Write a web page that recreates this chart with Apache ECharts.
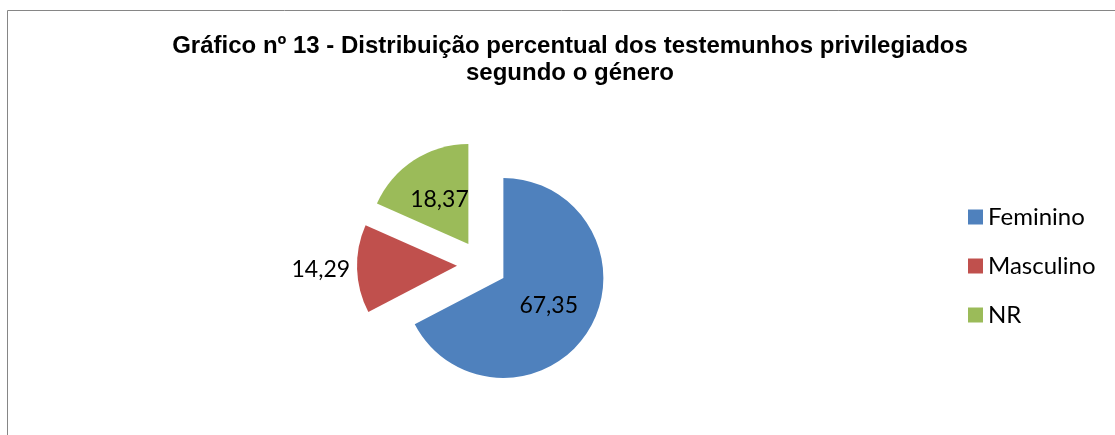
<!DOCTYPE html>
<html>
<head>
<meta charset="utf-8">
<script src="https://cdn.jsdelivr.net/npm/echarts@6/dist/echarts.min.js"></script>
<style>
  html, body { margin: 0; padding: 0; background: #fff; }
  #chart { width: 1115px; height: 435px; }
</style>
</head>
<body>
<div id="chart"></div>
<script>
// data
const categories = ['Feminino', 'Masculino', 'NR']
const values = [67.35, 14.29, 18.37]
const colors = ['#4F81BD', '#C0504D', '#9BBB59']

const fmt = v => v.toFixed(2).replace('.', ',')

const chart = echarts.init(document.getElementById('chart'))

chart.setOption({
  animation: false,
  title: {
    text: 'Gráfico nº 13 - Distribuição percentual dos testemunhos privilegiados\nsegundo o género',
    left: 570,
    top: 33,
    padding: 0,
    textAlign: 'center',
    textStyle: {
      fontFamily: 'Liberation Sans',
      fontWeight: 'bold',
      fontSize: 24,
      lineHeight: 27,
      color: '#000',
    },
  },
  legend: {
    orient: 'vertical',
    left: 968,
    top: 205,
    padding: 0,
    itemWidth: 15,
    itemHeight: 15,
    itemGap: 25,
    icon: 'rect',
    data: categories,
    textStyle: { fontFamily: 'Lato', fontSize: 24, lineHeight: 24, color: '#000' },
  },
  graphic: [{
    type: 'rect',
    shape: { x: 7.5, y: 10.5, width: 1200, height: 1000 },
    style: { fill: 'none', stroke: '#868686', lineWidth: 1 },
    silent: true,
  }],
  series: [{
    type: 'pie',
    center: [482, 265],
    radius: 100,
    startAngle: 90,
    clockwise: true,
    selectedMode: 'multiple',
    selectedOffset: 25,
    avoidLabelOverlap: false,
    emphasis: { disabled: true },
    label: {
      position: 'inside',
      fontFamily: 'Lato',
      fontSize: 23,
      color: '#000',
      formatter: p => fmt(p.value),
    },
    labelLine: { show: false },
    data: categories.map((name, i) => {
      const item = {
        name,
        value: values[i],
        selected: true,
        itemStyle: { color: colors[i] },
        select: { itemStyle: { color: colors[i], borderWidth: 0 } },
      }
      if (name === 'Masculino') {
        item.label = { position: 'outside' }
        item.labelLine = { show: false, length: 2, length2: 0 }
      }
      return item
    }),
  }],
})
</script>
</body>
</html>
